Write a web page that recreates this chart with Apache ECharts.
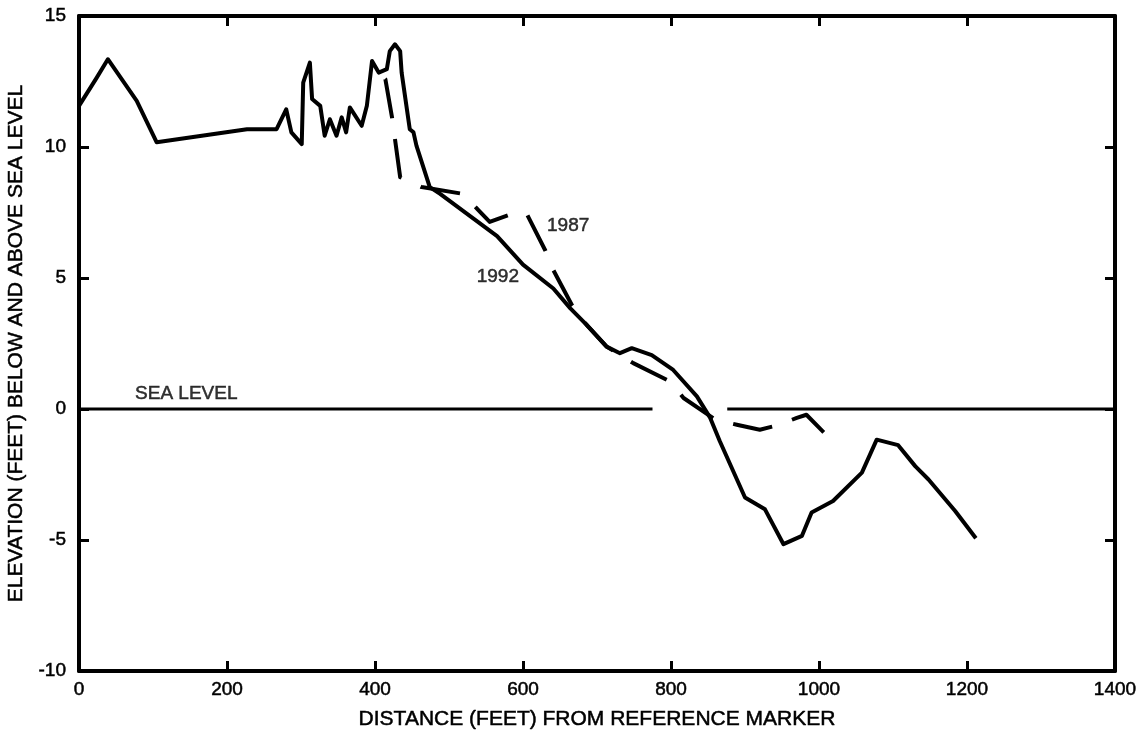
<!DOCTYPE html>
<html>
<head>
<meta charset="utf-8">
<script src="https://cdn.jsdelivr.net/npm/echarts@6/dist/echarts.min.js"></script>
<style>
  html, body { margin: 0; padding: 0; background: #fff; }
  #chart { width: 1142px; height: 735px; }
</style>
</head>
<body>
<div id="chart"></div>
<script>
// Beach profile surveys: distance from the reference marker (feet) vs elevation (feet)
const profile1992X = [0, 24, 39, 78, 105, 227, 267, 280, 287, 301, 303, 312, 315, 326, 332, 339, 348, 355, 361, 366,
  382, 389, 396, 405, 416, 420, 427, 434, 436, 447, 452, 456, 474, 488, 565, 600, 641, 664, 686, 713,
  731, 747, 774, 803, 835, 853, 866, 900, 927, 952, 977, 990, 1019, 1058, 1078, 1107, 1130, 1148, 1184, 1212];
const profile1992Y = [11.57, 12.65, 13.35, 11.76, 10.18, 10.68, 10.68, 11.44, 10.56, 10.11, 12.46, 13.22, 11.83, 11.57, 10.43, 11.06, 10.43, 11.13, 10.56, 11.51,
  10.81, 11.57, 13.28, 12.84, 12.97, 13.66, 13.92, 13.66, 12.84, 10.68, 10.56, 10.05, 8.47, 8.21, 6.60, 5.51, 4.60, 3.84, 3.21, 2.38,
  2.13, 2.32, 2.06, 1.49, 0.48, -0.34, -1.23, -3.38, -3.83, -5.16, -4.84, -3.95, -3.51, -2.43, -1.17, -1.38, -2.18, -2.69, -3.89, -4.93];

const profile1987X = [405, 414, 423, 434, 463, 519, 540, 555, 585, 605, 630, 641, 666, 686, 713, 749, 799, 817, 860, 889, 920, 943, 970, 983, 1013];
const profile1987Y = [12.84, 12.59, 11.13, 8.85, 8.47, 8.21, 7.58, 7.14, 7.45, 7.45, 6.06, 5.30, 3.97, 3.21, 2.38, 1.75, 1.05, 0.42, -0.41, -0.60, -0.79, -0.63, -0.34, -0.22, -1.08];

// Sea-level reference line, interrupted where the profiles cross it
const seaLevelX = [0, 775, null, 876, 1400];
const seaLevelY = [0, 0, null, 0, 0];

// In-plot annotations
const annotationText = ['1992', '1987', 'SEA LEVEL'];
const annotationX = [566, 661, 145];
const annotationY = [5.06, 6.98, 0.6];

const xTicks = { min: 0, max: 1400, interval: 200 };
const yTicks = { min: -10, max: 15, interval: 5 };

const pairs = (xs, ys) => xs.map((x, i) => (x === null ? '-' : [x, ys[i]]));

const FONT = '"Liberation Sans", Arial, Helvetica, sans-serif';
const INK = '#000';
// thin outline in the text colour gives the lettering a slightly heavier stroke
const TEXT_INK = { color: INK, fontFamily: FONT, textBorderColor: INK, textBorderWidth: 0.5 };

function frameAxis(extra) {
  return Object.assign({
    type: 'value',
    axisLine: { show: true, onZero: false, lineStyle: { color: INK, width: 4 } },
    axisTick: { show: true, inside: true, length: 10, lineStyle: { color: INK, width: 3 } },
    splitLine: { show: false },
    axisLabel: { show: false }
  }, extra);
}

const labelStyle = Object.assign({
  show: true, fontSize: 19,
  showMinLabel: true, showMaxLabel: true,
  formatter: v => String(v)
}, TEXT_INK);

const chart = echarts.init(document.getElementById('chart'), null, { renderer: 'canvas' });
chart.setOption({
  backgroundColor: '#fff',
  animation: false,
  grid: { left: 79, right: 27, top: 16, bottom: 64, containLabel: false, outerBoundsMode: 'none' },
  xAxis: [
    frameAxis(Object.assign({}, xTicks, {
      position: 'bottom',
      axisLabel: Object.assign({}, labelStyle, { margin: 9 }),
      name: 'DISTANCE (FEET) FROM REFERENCE MARKER',
      nameLocation: 'middle',
      nameGap: 38,
      nameTextStyle: Object.assign({ fontSize: 21 }, TEXT_INK)
    })),
    frameAxis(Object.assign({}, xTicks, { position: 'top' }))
  ],
  yAxis: [
    frameAxis(Object.assign({}, yTicks, {
      position: 'left',
      axisLabel: Object.assign({}, labelStyle, { margin: 13 }),
      name: 'ELEVATION (FEET) BELOW AND ABOVE SEA LEVEL',
      nameLocation: 'middle',
      nameGap: 50,
      nameTextStyle: Object.assign({ fontSize: 21 }, TEXT_INK)
    })),
    frameAxis(Object.assign({}, yTicks, { position: 'right' }))
  ],
  series: [
    {
      name: 'Sea level',
      type: 'line',
      data: pairs(seaLevelX, seaLevelY),
      symbol: 'none',
      connectNulls: false,
      lineStyle: { color: INK, width: 3 },
      silent: true
    },
    {
      name: '1987',
      type: 'line',
      data: pairs(profile1987X, profile1987Y),
      symbol: 'none',
      lineStyle: { color: INK, width: 4, type: [40, 21], dashOffset: 52, cap: 'butt', join: 'round' },
      silent: true
    },
    {
      name: '1992',
      type: 'line',
      data: pairs(profile1992X, profile1992Y),
      symbol: 'none',
      lineStyle: { color: INK, width: 4, join: 'round' },
      silent: true
    },
    {
      name: 'Annotations',
      type: 'scatter',
      data: annotationText.map((t, i) => [annotationX[i], annotationY[i], t]),
      symbolSize: 0,
      silent: true,
      label: Object.assign({
        show: true,
        position: 'inside',
        formatter: p => p.value[2],
        fontSize: 19
      }, TEXT_INK)
    }
  ]
});
</script>
</body>
</html>
